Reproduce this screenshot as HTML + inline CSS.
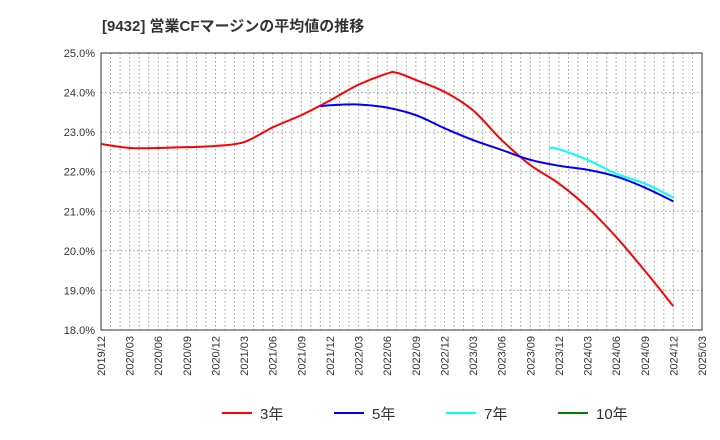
<!DOCTYPE html>
<html><head><meta charset="utf-8"><style>
body{margin:0;background:#fff;font-family:"Liberation Sans","Noto Sans CJK JP",sans-serif;}
</style></head><body>
<svg id="c" width="720" height="440" xmlns="http://www.w3.org/2000/svg" style="display:block">
<text x="102" y="31" font-size="15" font-weight="bold" fill="#333" font-family="Liberation Sans, Noto Sans CJK JP, sans-serif">[9432]  営業CFマージンの平均値の推移</text>
<g id="grid"></g><g id="axes"></g><g id="series"></g><g id="legend"></g>
</svg>
<script>
const xLabels=["2019/12","2020/03","2020/06","2020/09","2020/12","2021/03","2021/06","2021/09","2021/12","2022/03","2022/06","2022/09","2022/12","2023/03","2023/06","2023/09","2023/12","2024/03","2024/06","2024/09","2024/12","2025/03"];
const yTicks=[18,19,20,21,22,23,24,25];
const s3Months=[0,3,6,9,12,15,18,21,24,27,30,31,33,36,39,42,45,48,51,54,57,60];
const s3=[22.7,22.6,22.6,22.62,22.65,22.75,23.12,23.43,23.8,24.2,24.48,24.5,24.32,24.02,23.55,22.8,22.17,21.7,21.1,20.35,19.5,18.6];
const s5Months=[23,24,27,30,33,36,39,42,45,48,51,54,57,60];
const s5=[23.65,23.68,23.7,23.62,23.43,23.1,22.8,22.55,22.3,22.15,22.05,21.88,21.6,21.25];
const s7Months=[47,48,51,54,57,60];
const s7=[22.6,22.57,22.3,21.95,21.7,21.35];
const L=101,R=702,T=53,B=330;
const NS="http://www.w3.org/2000/svg";
const X=m=>L+(R-L)*m/63;
const Y=v=>B-(v-18)/7*(B-T);
function mk(tag,attrs,parent,name){const e=document.createElementNS(NS,tag);for(const k in attrs)e.setAttribute(k,attrs[k]);


document.getElementById(parent).appendChild(e);return e;}
for(let m=1;m<63;m++)mk('line',{x1:X(m),x2:X(m),y1:T,y2:B,stroke:'#999','stroke-dasharray':'1.5,2.5','stroke-width':1},'grid','v-gridline');
yTicks.forEach(v=>{if(v>18&&v<25)mk('line',{x1:L,x2:R,y1:Y(v),y2:Y(v),stroke:'#999','stroke-dasharray':'1.5,2.5'},'grid','h-gridline');
const t=mk('text',{x:L-6,y:Y(v)+4,'text-anchor':'end','font-size':11,fill:'#333'},'axes','y-tick-label');t.textContent=v.toFixed(1)+'%';});
mk('rect',{x:L,y:T,width:R-L,height:B-T,fill:'none',stroke:'#333'},'axes','plot-frame');
xLabels.forEach((s,i)=>{const x=X(i*3);const t=mk('text',{x:x+4,y:B+6,'text-anchor':'end','font-size':11,fill:'#333',transform:`rotate(-90 ${x+4} ${B+6})`},'axes','x-tick-label');t.textContent=s;});
function path(ms,vs){const p=ms.map((m,i)=>[X(m),Y(vs[i])]);let d='M'+p[0][0]+','+p[0][1];
for(let i=0;i<p.length-1;i++){const p0=p[Math.max(0,i-1)],p1=p[i],p2=p[i+1],p3=p[Math.min(p.length-1,i+2)];
const c1=[p1[0]+(p2[0]-p0[0])/6,p1[1]+(p2[1]-p0[1])/6],c2=[p2[0]-(p3[0]-p1[0])/6,p2[1]-(p3[1]-p1[1])/6];
d+=` C${c1[0]},${c1[1]} ${c2[0]},${c2[1]} ${p2[0]},${p2[1]}`;}return d;}
function line(ms,vs,color,name){mk('path',{d:path(ms,vs),fill:'none',stroke:color,'stroke-width':2,'stroke-linejoin':'round'},'series',name);}
line(s3Months,s3,'#ff0000','series-3yr');line(s5Months,s5,'#0000ff','series-5yr');line(s7Months,s7,'#00ffff','series-7yr');
[["3年","#ff0000",222],["5年","#0000ff",334],["7年","#00ffff",446],["10年","#008000",558]].forEach(([n,c,x])=>{
mk('line',{x1:x,x2:x+30,y1:413,y2:413,stroke:c,'stroke-width':2},'legend','legend-swatch');
const t=mk('text',{x:x+38,y:419,'font-size':15,fill:'#333'},'legend','legend-entry');t.textContent=n;});
</script>
</body></html>
